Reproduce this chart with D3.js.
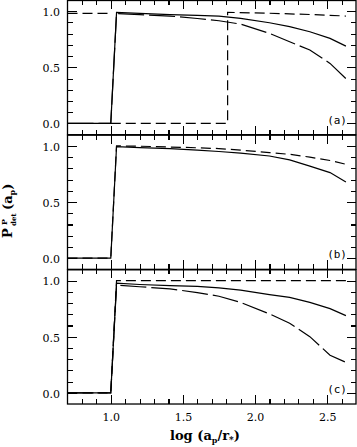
<!DOCTYPE html>
<html><head><meta charset="utf-8">
<script src="https://cdn.jsdelivr.net/npm/d3@7"></script>
<style>
html,body{margin:0;padding:0;background:#fff;}
svg{display:block;}
</style></head>
<body>
<svg id="c" width="357" height="447"></svg>
<script>
// ---- data ----
const xGrid = [0.7, 1.0, 1.04, 1.2, 1.41, 1.6, 1.75, 1.9, 2.1, 2.24, 2.38, 2.52, 2.63];
const aSolid = [0, 0, 0.99, 0.98, 0.97, 0.963, 0.957, 0.937, 0.897, 0.862, 0.817, 0.758, 0.689];
const aLongDash = [0, 0, 0.98, 0.97, 0.957, 0.935, 0.915, 0.885, 0.803, 0.728, 0.654, 0.535, 0.40];
const aDashX = [0.7, 1.0, NaN, 1.0, 1.81, 1.81, 2.1, 2.4, 2.63];
const aDash = [0.98, 0.98, NaN, 0, 0, 0.99, 0.982, 0.97, 0.957];
const bSolid = [0, 0, 0.994, 0.985, 0.976, 0.963, 0.95, 0.935, 0.91, 0.875, 0.82, 0.762, 0.678];
const bDash = [0, 0, 1.0, 0.997, 0.99, 0.983, 0.976, 0.962, 0.94, 0.925, 0.90, 0.87, 0.836];
const cSolid = [0, 0, 0.976, 0.965, 0.955, 0.948, 0.935, 0.915, 0.875, 0.85, 0.806, 0.75, 0.6875];
const cLongDash = [0, 0, 0.96, 0.945, 0.926, 0.893, 0.86, 0.805, 0.703, 0.62, 0.50, 0.335, 0.271];
const cDash = [0, 0, 1.0, 1.0, 1.0, 1.0, 1.0, 1.0, 1.0, 1.0, 1.0, 1.0, 1.0];
const xMajorTicks = [1.0, 1.5, 2.0, 2.5];
const xMinorTicks = d3.range(8, 27).map(d => d / 10);
const yMajorTicks = [0, 0.5, 1.0];
const yMinorTicks = d3.range(0, 11).map(d => d / 10);
const panelLabels = ["(a)", "(b)", "(c)"];

// ---- layout ----
const svg = d3.select("#c");
const x = d3.scaleLinear().domain([0.7, 2.7]).range([67.5, 356]);
const pTop = 0, pH = 134.67;
const SHORT = "10,5", LONG = "26,5";

const panels = [
  {label: panelLabels[0], series: [
    {xs: xGrid, ys: aSolid, dash: null},
    {xs: xGrid, ys: aLongDash, dash: LONG},
    {xs: aDashX, ys: aDash, dash: SHORT}]},
  {label: panelLabels[1], series: [
    {xs: xGrid, ys: bSolid, dash: null},
    {xs: xGrid, ys: bDash, dash: SHORT}]},
  {label: panelLabels[2], series: [
    {xs: xGrid, ys: cSolid, dash: null},
    {xs: xGrid, ys: cLongDash, dash: LONG},
    {xs: xGrid, ys: cDash, dash: SHORT}]}
];

const serif = "'DejaVu Serif', serif";

panels.forEach((p, i) => {
  const top = pTop + i * pH, bot = top + pH;
  const y = d3.scaleLinear().domain([-0.1, 1.1]).range([bot, top]);
  const g = svg.append("g");

  const line = d3.line().defined(d => !isNaN(d[1])).x(d => x(d[0])).y(d => y(d[1]));
  p.series.slice().reverse().forEach(s => {
    const pts = s.xs.map((xv, k) => [xv, s.ys[k]]);
    g.append("path").attr("d", line(pts)).attr("fill", "none")
      .attr("stroke", "#000").attr("stroke-width", 1.2)
      .attr("stroke-dasharray", s.dash);
  });

  const mk = (axisFn, scale, vals, len, tr) => {
    const a = g.append("g").attr("transform", tr)
      .call(axisFn(scale).tickValues(vals).tickSizeInner(-len).tickSizeOuter(0).tickFormat(""));
    a.select(".domain").remove();
    a.selectAll("line").attr("stroke", "#000").attr("stroke-width", 1.1).attr("shape-rendering", "crispEdges");
  };
  const xMin = xMinorTicks.filter(v => !xMajorTicks.some(m => Math.abs(m - v) < 1e-6));
  const yMin = yMinorTicks.filter(v => !yMajorTicks.some(m => Math.abs(m - v) < 1e-6));
  mk(d3.axisBottom, x, xMin, 5, `translate(0,${bot})`);
  mk(d3.axisBottom, x, xMajorTicks, 9, `translate(0,${bot})`);
  mk(d3.axisTop, x, xMin, 5, `translate(0,${top})`);
  mk(d3.axisTop, x, xMajorTicks, 9, `translate(0,${top})`);
  mk(d3.axisLeft, y, yMin, 5.5, `translate(${x.range()[0]},0)`);
  mk(d3.axisLeft, y, yMajorTicks, 9, `translate(${x.range()[0]},0)`);
  mk(d3.axisRight, y, yMin, 5.5, `translate(${x.range()[1]},0)`);
  mk(d3.axisRight, y, yMajorTicks, 9, `translate(${x.range()[1]},0)`);

  g.append("rect").attr("x", x.range()[0]).attr("y", top + 0.5)
    .attr("width", x.range()[1] - x.range()[0]).attr("height", pH - 0.5)
    .attr("fill", "none").attr("stroke", "#000").attr("stroke-width", 1.3);

  const yl = g.append("g").attr("transform", `translate(${x.range()[0]},0)`)
    .call(d3.axisLeft(y).tickValues(yMajorTicks).tickSize(0).tickPadding(7.5).tickFormat(d3.format(".1f")));
  yl.select(".domain").remove();
  yl.selectAll("text").attr("font-family", serif).attr("font-size", 11).attr("dy", "0.4em").attr("fill", "#000");

  g.append("text").attr("x", 347).attr("y", bot - 11).attr("text-anchor", "end")
    .attr("font-family", "'DejaVu Sans Mono', monospace").attr("font-size", 11).text(p.label);

  if (i === panels.length - 1) {
    const xl = g.append("g").attr("transform", `translate(0,${bot})`)
      .call(d3.axisBottom(x).tickValues(xMajorTicks).tickSize(0).tickPadding(9).tickFormat(d3.format(".1f")));
    xl.select(".domain").remove();
    xl.selectAll("text").attr("font-family", serif).attr("font-size", 11).attr("fill", "#000");
  }
});

// x axis title
const xt = svg.append("text").attr("x", 170).attr("y", 440).attr("text-anchor", "start")
  .attr("font-family", serif).attr("font-size", 13).attr("font-weight", "bold");
xt.append("tspan").text("log (a");
xt.append("tspan").attr("font-size", 8).attr("dy", 3).text("p");
xt.append("tspan").attr("dy", -3).text("/r");
xt.append("tspan").attr("font-size", 9).attr("dy", 3).text("*");
xt.append("tspan").attr("dy", -3).text(")");

// y axis title (rotated)
const yt = svg.append("g").attr("transform", "translate(12,238) rotate(-90)")
  .attr("font-family", serif).attr("font-weight", "bold");
yt.append("text").attr("x", 0).attr("y", 0).attr("font-size", 13).text("P");
yt.append("text").attr("x", 13).attr("y", -5).attr("font-size", 8).text("P");
yt.append("text").attr("x", 12).attr("y", 4).attr("font-size", 7).text("det");
const yt2 = yt.append("text").attr("x", 28).attr("y", 0).attr("font-size", 13);
yt2.append("tspan").text("(a");
yt2.append("tspan").attr("font-size", 8).attr("dy", 3).text("p");
yt2.append("tspan").attr("dy", -3).text(")");
</script>
</body></html>
